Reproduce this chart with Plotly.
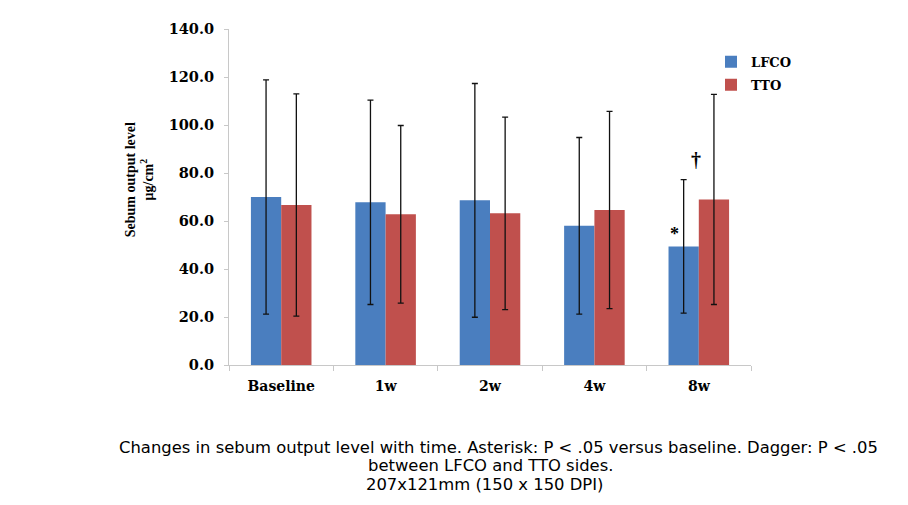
import plotly.graph_objects as go

categories = ["Baseline", "1w", "2w", "4w", "8w"]
lfco_mean = [70.0, 67.8, 68.6, 58.0, 49.4]
lfco_sd = [48.8, 42.6, 48.7, 36.8, 27.8]
tto_mean = [66.7, 62.8, 63.2, 64.6, 69.0]
tto_sd = [46.3, 37.0, 40.1, 41.1, 43.8]
y_ticks = [0, 20, 40, 60, 80, 100, 120, 140]
caption_lines = [
    "Changes in sebum output level with time. Asterisk: P &lt; .05 versus baseline. Dagger: P &lt; .05",
    "between LFCO and TTO sides.",
    "207x121mm (150 x 150 DPI)",
]

serif = "Liberation Serif"
wide = "DejaVu Serif"
OFF = 8  # page body offset
W, H = 908, 505
L, R, T, B = 229 - OFF, 157 + OFF, 25 - OFF, 140 + OFF
PW, PH = W - L - R, H - T - B


def px_x(x):
    return (x - OFF - L) / PW


def px_y(y):
    return (H - B - (y - OFF)) / PH


fig = go.Figure()
fig.add_trace(go.Bar(
    name="<b>LFCO</b>", x=categories, y=lfco_mean, legendgroup="a",
    marker=dict(color="#4a7ebf", line=dict(width=0)),
    error_y=dict(type="data", array=lfco_sd, color="#111111", thickness=1.3, width=3),
))
fig.add_trace(go.Bar(
    name="<b>TTO</b>", x=categories, y=tto_mean, legendgroup="b",
    marker=dict(color="#c0504d", line=dict(width=0)),
    error_y=dict(type="data", array=tto_sd, color="#111111", thickness=1.3, width=3),
))

fig.update_layout(
    width=W, height=H,
    margin=dict(l=L, r=R, t=T, b=B),
    paper_bgcolor="white", plot_bgcolor="white",
    barmode="group", bargap=0.42, bargroupgap=0,
    showlegend=True,
    legend=dict(x=px_x(711), y=px_y(43), xanchor="left", yanchor="top",
                font=dict(family=wide, size=13, color="#000000"),
                itemwidth=30, traceorder="grouped", tracegroupgap=3,
                bgcolor="rgba(0,0,0,0)"),
    font=dict(family=serif, color="#000000"),
)
fig.update_yaxes(
    range=[0, 140], tickvals=y_ticks,
    ticktext=[f"<b>{v:.1f}</b>" for v in y_ticks],
    tickfont=dict(family=wide, size=14.5, color="#000000"),
    showgrid=False, zeroline=False,
    showline=True, linecolor="#c8c8c8", linewidth=1,
    ticks="outside", ticklen=4, tickcolor="#c8c8c8", ticklabelstandoff=7,
)
fig.update_xaxes(
    tickvals=categories,
    ticktext=[f"<b>{c}</b>" for c in categories],
    tickfont=dict(family=wide, size=14, color="#000000"),
    showgrid=False, showline=True, linecolor="#c8c8c8", linewidth=1,
    ticks="outside", ticklen=5, tickcolor="#c8c8c8", tickson="boundaries",
    ticklabelstandoff=8,
)

fig.add_annotation(
    xref="paper", yref="paper", x=px_x(139), y=px_y(178),
    text="<b>Sebum output level<br>μg/cm<sup>2</sup></b>",
    textangle=-90, showarrow=False, xanchor="center", yanchor="middle",
    font=dict(family=serif, size=14, color="#000000"),
)
fig.add_annotation(x="8w", y=lfco_mean[4], xref="x", yref="y", xshift=-24, yshift=12,
                   text="<b>*</b>", showarrow=False,
                   font=dict(family=serif, size=18, color="#000000"))
fig.add_annotation(x="8w", y=lfco_mean[4] + lfco_sd[4], xref="x", yref="y", xshift=-3, yshift=20,
                   text="<b>†</b>", showarrow=False,
                   font=dict(family=serif, size=20, color="#000000"))

for line, cx, cy in zip(caption_lines, [498, 490, 484], [448, 467, 486]):
    fig.add_annotation(
        xref="paper", yref="paper", x=px_x(cx), y=px_y(cy),
        text=line, showarrow=False, xanchor="center", yanchor="middle",
        font=dict(family="DejaVu Sans", size=16.4, color="#000000"),
    )

fig.write_html("out.html")
